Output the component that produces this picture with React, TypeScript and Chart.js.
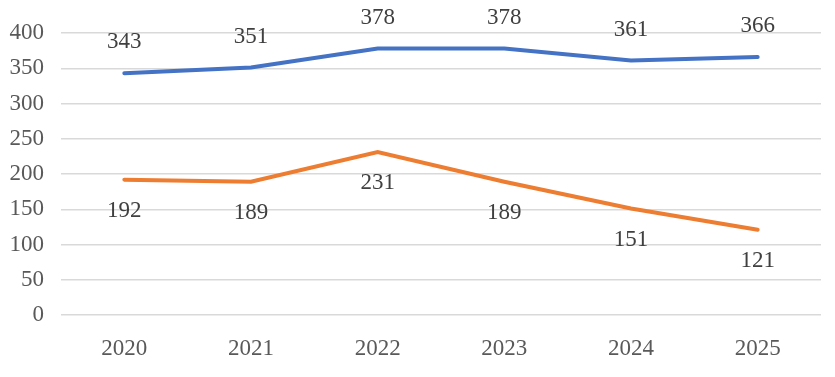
import React, { useEffect, useRef } from "react";
import { Chart, registerables } from "chart.js";

Chart.register(...registerables);

const categories = ["2020", "2021", "2022", "2023", "2024", "2025"];
const seriesA = [343, 351, 378, 378, 361, 366];
const seriesB = [192, 189, 231, 189, 151, 121];
const yMin = 0;
const yMax = 400;
const yStep = 50;

const FONT = "'Liberation Serif', 'Times New Roman', serif";

const labelPlugin = {
  id: "pointLabels",
  afterDatasetsDraw(chart: any) {
    const ctx = chart.ctx;
    ctx.save();
    ctx.font = `23px ${FONT}`;
    ctx.fillStyle = "#404040";
    ctx.textAlign = "center";
    ctx.textBaseline = "middle";
    chart.data.datasets.forEach((ds: any, di: number) => {
      const meta = chart.getDatasetMeta(di);
      meta.data.forEach((pt: any, i: number) => {
        const off = di === 0 ? -31 : 31;
        ctx.fillText(String(ds.data[i]), pt.x, pt.y + off);
      });
    });
    ctx.restore();
  },
};

export default function App() {
  const ref = useRef<HTMLCanvasElement>(null);
  useEffect(() => {
    const chart = new Chart(ref.current!, {
      type: "line",
      data: {
        labels: categories,
        datasets: [
          {
            data: seriesA,
            borderColor: "#4472C4",
            borderWidth: 4,
            pointRadius: 0,
            tension: 0,
            borderCapStyle: "round",
          },
          {
            data: seriesB,
            borderColor: "#ED7D31",
            borderWidth: 4,
            pointRadius: 0,
            tension: 0,
            borderCapStyle: "round",
          },
        ],
      },
      options: {
        animation: false,
        responsive: false,
        layout: { padding: { top: 33, right: 14, bottom: 0, left: 0 } },
        plugins: { legend: { display: false }, tooltip: { enabled: false } },
        scales: {
          x: {
            offset: true,
            grid: { display: false, drawTicks: false },
            border: { display: false },
            ticks: {
              color: "#595959",
              font: { family: FONT, size: 23 },
              padding: 20,
              maxRotation: 0,
            },
            afterFit: (s: any) => {
              s.height = 62;
            },
          },
          y: {
            min: yMin,
            max: yMax,
            ticks: {
              stepSize: yStep,
              color: "#595959",
              font: { family: FONT, size: 23 },
              padding: 17,
            },
            grid: { color: "#D9D9D9", lineWidth: 1.5, drawTicks: false },
            border: { display: false },
            afterFit: (s: any) => {
              s.width = 61;
            },
          },
        },
      },
      plugins: [labelPlugin],
    });
    return () => chart.destroy();
  }, []);
  return (
    <div style={{ position: "absolute", left: 0, top: 0, width: 835, height: 377, background: "#fff" }}>
      <canvas ref={ref} width={835} height={377} />
    </div>
  );
}
